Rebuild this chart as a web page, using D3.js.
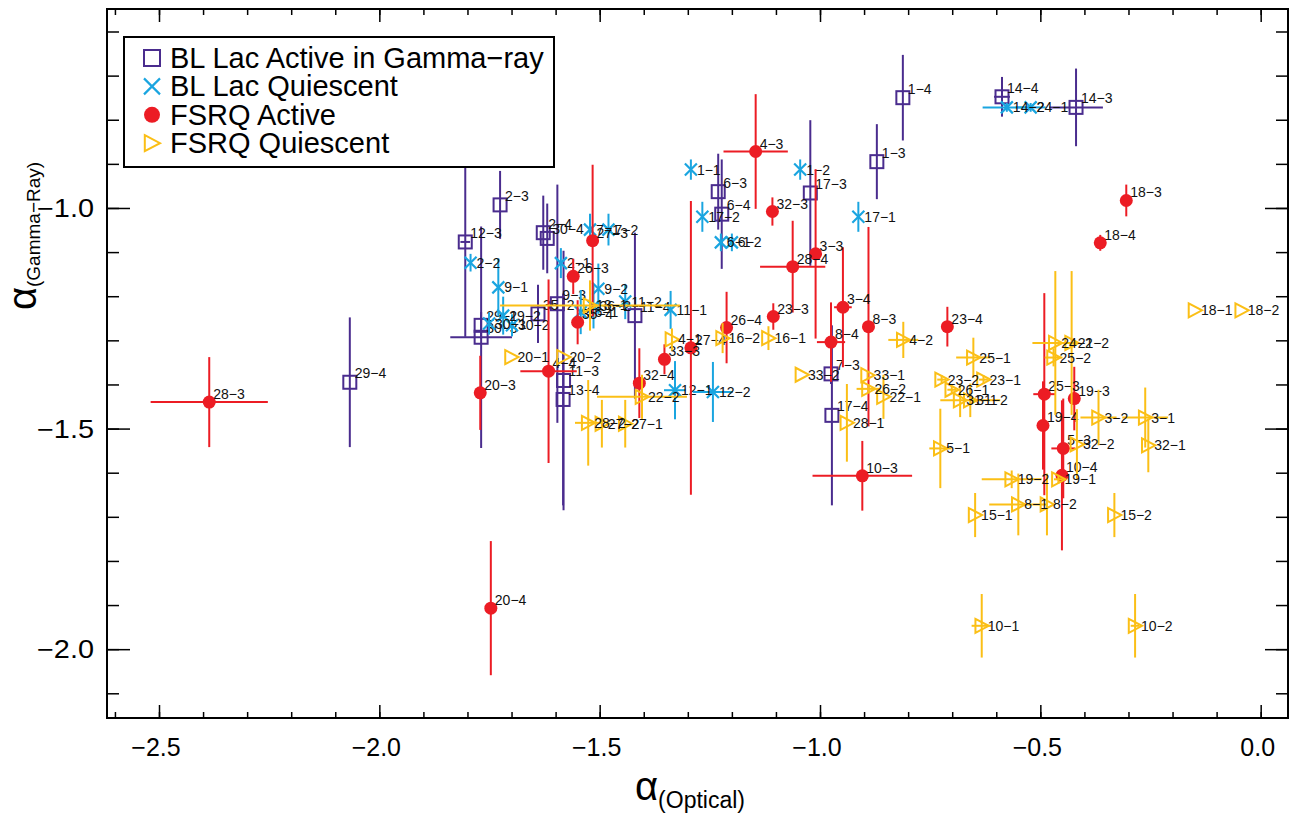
<!DOCTYPE html>
<html>
<head>
<meta charset="utf-8">
<script src="https://cdn.jsdelivr.net/npm/d3@7"></script>
<style>
body { margin: 0; background: #fff; }
text { font-family: "Liberation Sans", Arial, Helvetica, sans-serif; }
</style>
</head>
<body>
<svg width="1293" height="819"></svg>
<script>
// rows: [label, alpha optical, alpha gamma, x error, y error]
const blLacActive = [
  ["1-4", -0.812, -0.750, 0, 0.097],
  ["1-3", -0.871, -0.895, 0, 0.085],
  ["14-4", -0.587, -0.748, 0.018, 0.045],
  ["14-3", -0.419, -0.772, 0.061, 0.088],
  ["2-3", -1.726, -0.993, 0, 0.077],
  ["12-3", -1.805, -1.077, 0.011, 0.215],
  ["2-4", -1.628, -1.056, 0, 0.084],
  ["30-4", -1.619, -1.069, 0, 0.079],
  ["6-3", -1.231, -0.963, 0, 0.086],
  ["6-4", -1.223, -1.014, 0, 0.124],
  ["17-3", -1.022, -0.966, 0, 0.165],
  ["17-4", -0.973, -1.470, 0, 0.204],
  ["7-3", -0.975, -1.376, 0, 0.023],
  ["9-3", -1.596, -1.217, 0, 0.270],
  ["11-3", -1.582, -1.391, 0, 0.294],
  ["13-4", -1.583, -1.434, 0, 0.240],
  ["11-4", -1.420, -1.244, 0, 0.188],
  ["35-2", -1.640, -1.240, 0, 0.066],
  ["29-1", -1.769, -1.266, 0, 0.030],
  ["30-3", -1.769, -1.293, 0.070, 0.251],
  ["29-4", -2.067, -1.395, 0, 0.147]
];

const blLacQuiescent = [
  ["14-2", -0.576, -0.772, 0.055, 0.010],
  ["24-1", -0.522, -0.772, 0.034, 0.010],
  ["1-1", -1.293, -0.913, 0, 0.023],
  ["1-2", -1.045, -0.913, 0, 0.023],
  ["17-2", -1.267, -1.020, 0, 0.034],
  ["17-1", -0.913, -1.020, 0, 0.034],
  ["6-1", -1.225, -1.078, 0, 0.020],
  ["6-2", -1.200, -1.078, 0, 0.020],
  ["2-2", -1.793, -1.124, 0, 0.020],
  ["9-1", -1.730, -1.180, 0, 0.066],
  ["30-1", -1.751, -1.262, 0, 0.025],
  ["29-2", -1.719, -1.244, 0, 0.043],
  ["30-2", -1.699, -1.266, 0, 0.025],
  ["2-1", -1.588, -1.125, 0, 0.034],
  ["9-2", -1.503, -1.183, 0, 0.057],
  ["7-1", -1.522, -1.049, 0, 0.036],
  ["7-2", -1.480, -1.049, 0, 0.036],
  ["36-1", -1.543, -1.236, 0, 0.050],
  ["36-2", -1.514, -1.223, 0, 0.050],
  ["11-1", -1.339, -1.231, 0, 0.043],
  ["11-2", -1.442, -1.212, 0, 0.040],
  ["12-1", -1.329, -1.413, 0.025, 0.066],
  ["12-2", -1.243, -1.417, 0.045, 0.068]
];

const fsrqActive = [
  ["4-3", -1.146, -0.872, 0.073, 0.130],
  ["32-3", -1.108, -1.008, 0, 0.032],
  ["27-3", -1.516, -1.074, 0, 0.172],
  ["3-3", -1.010, -1.104, 0, 0.192],
  ["28-4", -1.062, -1.133, 0.074, 0.104],
  ["3-4", -0.948, -1.225, 0.020, 0.136],
  ["8-3", -0.890, -1.269, 0, 0.226],
  ["8-4", -0.975, -1.304, 0.032, 0.090],
  ["23-3", -1.106, -1.246, 0, 0.030],
  ["26-4", -1.212, -1.271, 0, 0.081],
  ["26-3", -1.560, -1.155, 0, 0.040],
  ["35-4", -1.550, -1.259, 0, 0.050],
  ["27-4", -1.293, -1.317, 0, 0.333],
  ["33-3", -1.353, -1.343, 0, 0.034],
  ["32-4", -1.410, -1.397, 0, 0.079],
  ["4-4", -1.616, -1.370, 0.064, 0.208],
  ["10-3", -0.904, -1.607, 0.113, 0.079],
  ["20-3", -1.771, -1.419, 0, 0.084],
  ["28-3", -2.386, -1.440, 0.133, 0.102],
  ["20-4", -1.747, -1.907, 0, 0.152],
  ["18-3", -0.305, -0.983, 0, 0.036],
  ["18-4", -0.364, -1.079, 0, 0.018],
  ["23-4", -0.711, -1.269, 0, 0.045],
  ["25-3", -0.491, -1.422, 0.025, 0.229],
  ["19-4", -0.494, -1.493, 0, 0.100],
  ["19-3", -0.423, -1.432, 0, 0.072],
  ["5-3", -0.448, -1.545, 0.027, 0.113],
  ["10-4", -0.451, -1.606, 0, 0.170]
];

const fsrqQuiescent = [
  ["18-1", -0.149, -1.232, 0, 0],
  ["18-2", -0.043, -1.232, 0, 0],
  ["24-2", -0.466, -1.306, 0.052, 0.163],
  ["21-2", -0.429, -1.306, 0, 0.163],
  ["25-2", -0.470, -1.339, 0.020, 0.020],
  ["25-1", -0.652, -1.339, 0.039, 0.045],
  ["4-2", -0.811, -1.299, 0.034, 0.041],
  ["23-2", -0.724, -1.389, 0.010, 0.010],
  ["23-1", -0.629, -1.389, 0.010, 0.010],
  ["26-1", -0.701, -1.412, 0.010, 0.010],
  ["31-1", -0.682, -1.436, 0, 0.038],
  ["31-2", -0.659, -1.436, 0.068, 0.038],
  ["3-2", -0.368, -1.475, 0.041, 0.063],
  ["3-1", -0.262, -1.475, 0.052, 0.068],
  ["32-2", -0.417, -1.536, 0, 0.080],
  ["32-1", -0.255, -1.538, 0, 0.061],
  ["5-1", -0.727, -1.545, 0.025, 0.090],
  ["19-2", -0.565, -1.615, 0.068, 0.020],
  ["19-1", -0.459, -1.615, 0.010, 0.010],
  ["8-1", -0.550, -1.672, 0.066, 0.070],
  ["8-2", -0.485, -1.672, 0, 0.070],
  ["15-1", -0.648, -1.696, 0, 0.050],
  ["15-2", -0.332, -1.696, 0, 0.050],
  ["10-1", -0.633, -1.947, 0.023, 0.072],
  ["10-2", -0.285, -1.947, 0.010, 0.072],
  ["33-1", -0.892, -1.379, 0, 0.010],
  ["33-2", -1.041, -1.378, 0, 0],
  ["26-2", -0.890, -1.410, 0.027, 0.010],
  ["22-1", -0.856, -1.428, 0, 0.050],
  ["28-1", -0.939, -1.487, 0, 0.088],
  ["16-1", -1.117, -1.295, 0, 0.027],
  ["16-2", -1.221, -1.295, 0, 0.034],
  ["4-1", -1.336, -1.298, 0, 0.025],
  ["22-2", -1.404, -1.428, 0.102, 0.050],
  ["28-2", -1.526, -1.487, 0.030, 0.097],
  ["27-2", -1.495, -1.489, 0, 0.054],
  ["27-1", -1.442, -1.489, 0, 0.054],
  ["20-1", -1.700, -1.338, 0, 0],
  ["20-2", -1.582, -1.338, 0, 0],
  ["13-1", -1.522, -1.221, 0.204, 0.057]
];

const legendNames = ["BL Lac Active in Gamma\u2212ray", "BL Lac Quiescent", "FSRQ Active", "FSRQ Quiescent"];
const xMajorTicks = [-2.5, -2.0, -1.5, -1.0, -0.5, 0.0];
const yMajorTicks = [-2.0, -1.5, -1.0];

const svg = d3.select("svg");
const pLeft = 107, pRight = 1288, pTop = 9, pBottom = 718;

const x = d3.scaleLinear().domain([-2.618, 0.062]).range([pLeft, pRight]);
const y = d3.scaleLinear().domain([-2.156, -0.549]).range([pBottom, pTop]);

const fmt = d3.format(".1f");
const xMinor = d3.range(-26, 1).map(d => d / 10);
const yMinor = d3.range(-21, -5).map(d => d / 10);

// ticks, all pointing inwards
function ticks(axis, tx, ty, size, values) {
  const g = svg.append("g")
    .attr("transform", `translate(${tx},${ty})`)
    .call(axis.tickValues(values).tickSize(size).tickFormat(""));
  g.select(".domain").remove();
  g.selectAll("line").attr("stroke", "#000").attr("stroke-width", 1.5);
  return g;
}
ticks(d3.axisBottom(x), 0, pBottom, -6, xMinor);
ticks(d3.axisBottom(x), 0, pBottom, -13, xMajorTicks);
ticks(d3.axisTop(x), 0, pTop, -6, xMinor);
ticks(d3.axisTop(x), 0, pTop, -13, xMajorTicks);
ticks(d3.axisLeft(y), pLeft, 0, -12, yMinor);
ticks(d3.axisLeft(y), pLeft, 0, -23, yMajorTicks);
ticks(d3.axisRight(y), pRight, 0, -12, yMinor);
ticks(d3.axisRight(y), pRight, 0, -23, yMajorTicks);

svg.append("rect")
  .attr("x", pLeft).attr("y", pTop)
  .attr("width", pRight - pLeft).attr("height", pBottom - pTop)
  .attr("fill", "none").attr("stroke", "#000").attr("stroke-width", 2);

// tick labels
svg.append("g").selectAll("text")
  .data(xMajorTicks)
  .join("text")
  .attr("x", d => x(d) - 3)
  .attr("y", 756)
  .attr("text-anchor", "middle")
  .attr("font-size", 25)
  .text(d => fmt(d));

svg.append("g").selectAll("text")
  .data(yMajorTicks)
  .join("text")
  .attr("x", 94)
  .attr("y", d => y(d) + 9)
  .attr("text-anchor", "end")
  .attr("font-size", 25)
  .attr("textLength", 57)
  .attr("lengthAdjust", "spacingAndGlyphs")
  .text(d => fmt(d));

// axis titles
const xt = svg.append("text").attr("x", 690).attr("y", 800).attr("text-anchor", "middle");
xt.append("tspan").attr("font-size", 40).text("\u03b1");
xt.append("tspan").attr("font-size", 23).attr("dy", 8).text("(Optical)");

const yt = svg.append("text")
  .attr("transform", "translate(36,236) rotate(-90)")
  .attr("text-anchor", "middle");
yt.append("tspan").attr("font-size", 40).text("\u03b1");
yt.append("tspan").attr("font-size", 19).attr("dy", 4).text("(Gamma\u2212Ray)");

// markers
const colors = ["#4a2c8e", "#1aa5e0", "#ec1c24", "#fbbf16"];
function marker(sel, kind, s) {
  if (kind === 0) {
    sel.append("rect").attr("x", -s).attr("y", -s).attr("width", 2 * s).attr("height", 2 * s)
      .attr("fill", "none").attr("stroke", colors[0]).attr("stroke-width", 2);
  } else if (kind === 1) {
    sel.append("path").attr("d", `M${-s},${-s}L${s},${s}M${-s},${s}L${s},${-s}`)
      .attr("stroke", colors[1]).attr("stroke-width", 2.2).attr("fill", "none");
  } else if (kind === 2) {
    sel.append("circle").attr("r", s).attr("fill", colors[2]);
  } else {
    sel.append("path").attr("d", `M${-s * 0.9},${-s}L${s},0L${-s * 0.9},${s}Z`)
      .attr("fill", "none").attr("stroke", colors[3]).attr("stroke-width", 2);
  }
}

const series = [blLacActive, blLacQuiescent, fsrqActive, fsrqQuiescent];
const markerSize = [6.5, 6, 6.5, 7];
const labelOffset = [[5, -4], [6, 5], [4, -3], [6, 5]];

const plot = svg.append("g");
series.forEach((rows, k) => {
  const g = plot.append("g");
  const c = colors[k];
  rows.forEach(([name, vx, vy, ex, ey]) => {
    if (ex > 0) {
      g.append("line").attr("x1", x(vx - ex)).attr("x2", x(vx + ex))
        .attr("y1", y(vy)).attr("y2", y(vy)).attr("stroke", c).attr("stroke-width", 2);
    }
    if (ey > 0) {
      g.append("line").attr("x1", x(vx)).attr("x2", x(vx))
        .attr("y1", y(vy - ey)).attr("y2", y(vy + ey)).attr("stroke", c).attr("stroke-width", 2);
    }
  });
  rows.forEach(([name, vx, vy]) => {
    const m = g.append("g").attr("transform", `translate(${x(vx)},${y(vy)})`);
    marker(m, k, markerSize[k]);
  });
  rows.forEach(([name, vx, vy]) => {
    g.append("text")
      .attr("x", x(vx) + labelOffset[k][0])
      .attr("y", y(vy) + labelOffset[k][1])
      .attr("font-size", 14)
      .attr("fill", "#111")
      .text(name.replace("-", "\u2212"));
  });
});

// legend
const lg = svg.append("g");
lg.append("rect").attr("x", 124).attr("y", 37).attr("width", 430).attr("height", 130)
  .attr("fill", "#fff").attr("stroke", "#000").attr("stroke-width", 2);
legendNames.forEach((name, i) => {
  const ry = 58 + i * 28.4;
  const m = lg.append("g").attr("transform", `translate(152,${ry})`);
  marker(m, i, 8);
  lg.append("text").attr("x", 170).attr("y", ry + 10).attr("font-size", 29).text(name);
});
</script>
</body>
</html>
